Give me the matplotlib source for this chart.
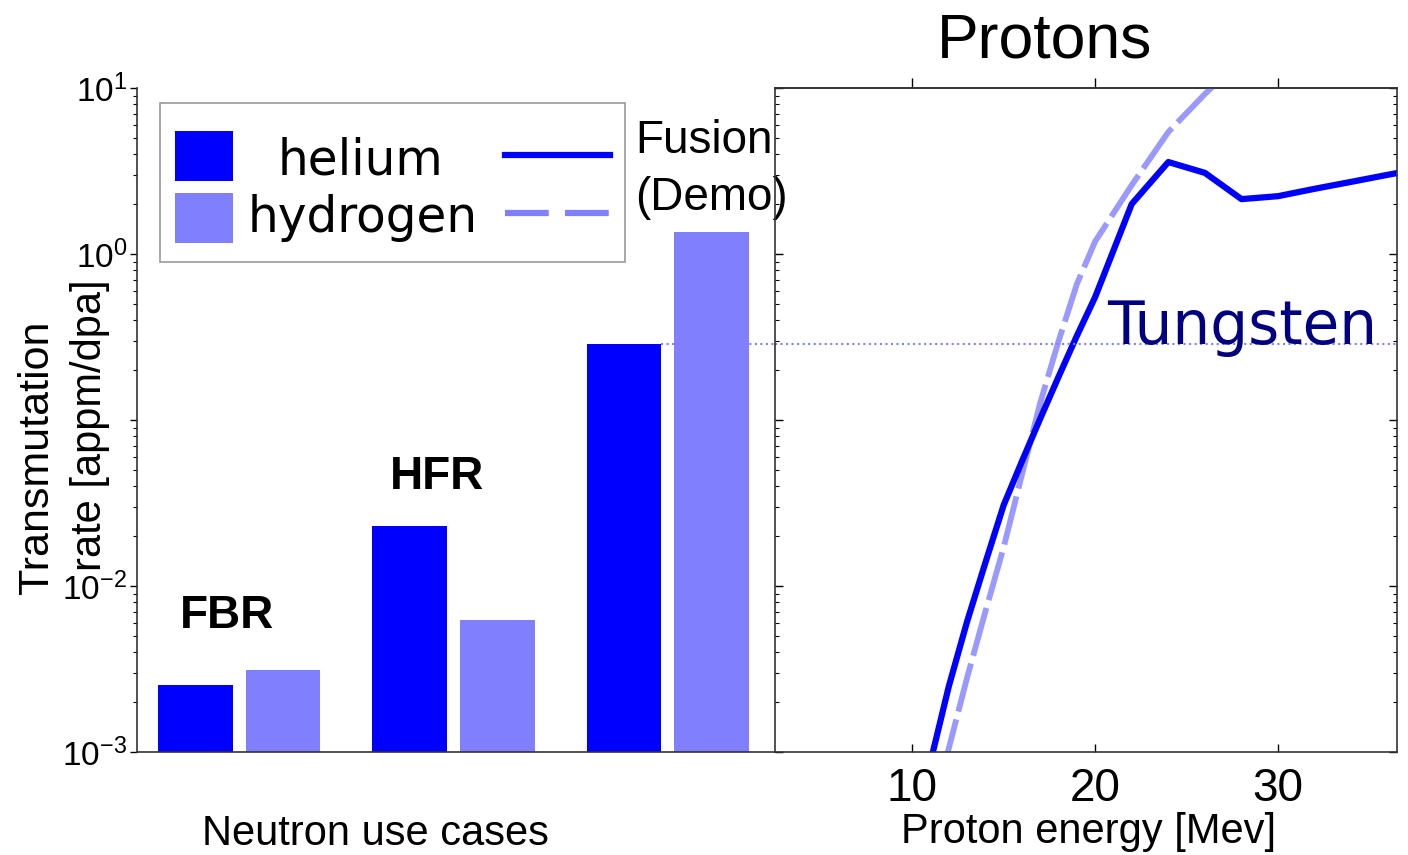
import matplotlib
matplotlib.use("Agg")
import matplotlib.pyplot as plt
import matplotlib.patches as mpatches
from matplotlib.lines import Line2D
from matplotlib.ticker import NullFormatter

# neutron use cases (bars)
cases = ["FBR", "HFR", "Fusion"]
helium_rate = [2.43e-3, 2.3e-2, 2.87e-1]
hydrogen_rate = [3.03e-3, 6.15e-3, 1.36]

# protons on tungsten (lines)
energy_he = [11, 12, 13, 14, 15, 16, 17, 18, 19, 20, 22, 24, 26, 28, 30, 32, 34, 36, 38]
rate_he = [8.7e-4, 2.48e-3, 6.1e-3, 1.38e-2, 3.07e-2, 5.64e-2, 1.02e-1, 1.82e-1,
           3.21e-1, 5.5e-1, 2.0, 3.58, 3.08, 2.14, 2.23, 2.47, 2.72, 3.0, 3.3]
energy_h = [11, 12, 13, 14, 15, 16, 17, 18, 19, 20, 22, 24, 26, 28]
rate_h = [3.7e-4, 1.05e-3, 2.8e-3, 7.0e-3, 1.71e-2, 4.69e-2, 1.27e-1, 2.98e-1,
          6.58e-1, 1.19, 2.6, 5.43, 9.2, 15.0]

tungsten_level = helium_rate[2]
energy_ticks = [10, 20, 30]
ytick_vals = [1e-3, 1e-2, 1e-1, 1e0, 1e1]
ytick_labels = ["$10^{-3}$", "$10^{-2}$", "", "$10^{0}$", "$10^{1}$"]

HE_COLOR = "#0000ff"
H_COLOR = "#8080ff"
H_LINE = "#9999ff"

plt.rcParams["font.family"] = "Liberation Sans"
plt.rcParams["mathtext.fontset"] = "custom"
plt.rcParams["mathtext.rm"] = "Liberation Sans"
plt.rcParams["mathtext.it"] = "Liberation Sans:italic"
plt.rcParams["mathtext.bf"] = "Liberation Sans:bold"

fig = plt.figure(figsize=(14.08, 8.55), dpi=100)
ax1 = fig.add_axes([0.0973, 0.1205, 0.4531, 0.7766])
ax2 = fig.add_axes([0.5504, 0.1205, 0.4418, 0.7766])
ax2.patch.set_visible(False)

# ---- left panel: bars ----
width = 0.35
offset = 0.407
x = list(range(len(cases)))
ax1.bar(x, helium_rate, width, align="edge", color=HE_COLOR, bottom=1e-4)
ax1.bar([i + offset for i in x], hydrogen_rate, width, align="edge", color=H_COLOR, bottom=1e-4)
ax1.set_yscale("log")
ax1.set_ylim(1e-3, 1e1)
ax1.set_xlim(-0.1, 2.88)
ax1.set_xticks([])
ax1.set_yticks(ytick_vals, labels=ytick_labels)
ax1.yaxis.set_minor_formatter(NullFormatter())
ax1.tick_params(axis="y", which="major", direction="out", length=5, width=1, pad=2, labelsize=24)
ax1.tick_params(axis="y", which="minor", direction="out", length=3, width=0.8)
ax1.spines["top"].set_visible(False)
ax1.spines["right"].set_visible(False)
for s in ("left", "bottom"):
    ax1.spines[s].set_color("#333333")
    ax1.spines[s].set_linewidth(1.2)

ax1.hlines(tungsten_level, 2 + width, 2.88, colors=H_COLOR, linestyles=":", lw=1.5, zorder=3)

ax1.text(0.067, 0.187, "FBR", transform=ax1.transAxes, fontsize=33, fontweight="bold")
ax1.text(0.397, 0.396, "HFR", transform=ax1.transAxes, fontsize=33, fontweight="bold")

# hand made legend box
ax1.add_patch(mpatches.Rectangle((0.036, 0.738), 0.729, 0.239, transform=ax1.transAxes,
                                 facecolor="white", edgecolor="#999999", lw=1.2, zorder=4))
ax1.add_patch(mpatches.Rectangle((0.0596, 0.860), 0.0904, 0.075, transform=ax1.transAxes,
                                 facecolor=HE_COLOR, edgecolor="none", zorder=5))
ax1.add_patch(mpatches.Rectangle((0.0596, 0.767), 0.0904, 0.075, transform=ax1.transAxes,
                                 facecolor=H_COLOR, edgecolor="none", zorder=5))
ax1.text(0.351, 0.869, "helium", transform=ax1.transAxes, ha="center", va="baseline",
         fontsize=35, family="DejaVu Sans", zorder=6)
ax1.text(0.353, 0.783, "hydrogen", transform=ax1.transAxes, ha="center", va="baseline",
         fontsize=35, family="DejaVu Sans", zorder=6)
ax1.add_line(Line2D([0.577, 0.741], [0.899, 0.899], transform=ax1.transAxes,
                    color=HE_COLOR, lw=4.5, zorder=6))
ax1.add_line(Line2D([0.577, 0.741], [0.812, 0.812], transform=ax1.transAxes,
                    color=H_COLOR, lw=4.5, dashes=(7.0, 2.6), zorder=6))
ax1.text(0.781, 0.902, "Fusion", transform=ax1.transAxes, fontsize=33, va="baseline")
ax1.text(0.781, 0.816, "(Demo)", transform=ax1.transAxes, fontsize=33, va="baseline")

# ---- right panel: protons ----
ax2.plot(energy_h, rate_h, color=H_LINE, lw=4.2, dashes=(8.5, 1.4))
ax2.plot(energy_he, rate_he, color=HE_COLOR, lw=4.5)
ax2.axhline(tungsten_level, color=H_COLOR, ls=":", lw=1.5)
ax2.set_yscale("log")
ax2.set_ylim(1e-3, 1e1)
ax2.set_xlim(2.5, 36.5)
ax2.set_xticks(energy_ticks)
ax2.tick_params(axis="x", which="major", direction="in", length=6, width=1, pad=11,
                labelsize=33, top=False)
ax2.tick_params(axis="y", which="both", direction="in", left=True, right=True,
                labelleft=False)
ax2.tick_params(axis="y", which="major", length=6, width=1)
ax2.tick_params(axis="y", which="minor", length=3, width=0.8)
ax2.yaxis.set_minor_formatter(NullFormatter())
for s in ax2.spines.values():
    s.set_color("#333333")
    s.set_linewidth(1.2)

top = ax2.secondary_xaxis("top")
top.set_xticks(energy_ticks)
top.tick_params(direction="out", length=7, width=1, labeltop=False)
top.spines["top"].set_color("#333333")
top.spines["top"].set_linewidth(1.2)

ax2.text(0.534, tungsten_level, "Tungsten", transform=ax2.get_yaxis_transform(),
         fontsize=43, family="DejaVu Sans", color="#000080", va="baseline")

# ---- figure texts ----
fig.text(0.742, 0.933, "Protons", fontsize=45, ha="center", va="baseline")
fig.text(0.267, 0.012, "Neutron use cases", fontsize=30, ha="center", va="baseline")
fig.text(0.7734, 0.014, "Proton energy [Mev]", fontsize=30, ha="center", va="baseline")
fig.text(0.0263, 0.465, "Transmutation", fontsize=31, rotation=90, ha="center", va="center")
fig.text(0.064, 0.503, "rate [appm/dpa]", fontsize=30, rotation=90, ha="center", va="center")

fig.savefig("out.png", dpi=100)
